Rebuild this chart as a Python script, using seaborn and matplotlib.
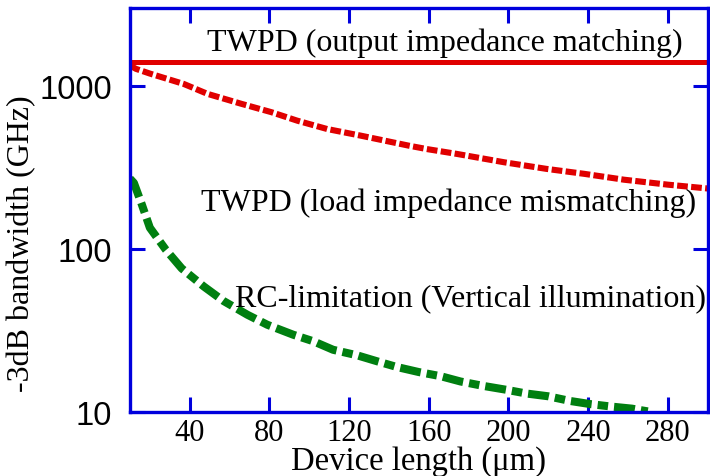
import matplotlib
matplotlib.use("Agg")
import matplotlib.pyplot as plt
import seaborn as sns
import numpy as np

# Device length (um) and -3dB bandwidth (GHz)
twpd_matched_bw = [1400]

twpd_mismatch_len = [10, 13, 20, 37, 49, 66, 81, 94, 109, 126, 150, 159, 174, 198, 219, 238, 258, 280, 300]
twpd_mismatch_bw = [1335, 1272, 1190, 1028, 893, 776, 690, 612, 544, 495, 430, 410, 383, 340, 310, 289, 266, 248, 235]

rc_len = [10, 12, 16, 20, 28, 36, 47, 57, 69, 79, 92, 102, 112, 124, 134, 144, 155, 166, 176,
          187, 199, 209, 220, 231, 241, 252, 262, 270]
rc_bw = [270, 254, 187, 135, 99, 76, 59, 48, 39.5, 34.3, 29.8, 27.2, 24.1, 22.3, 20.5, 18.9, 17.6,
         16.6, 15.4, 14.5, 13.7, 13.0, 12.5, 11.7, 11.2, 10.8, 10.5, 10.1]

x_ticks = [40, 80, 120, 160, 200, 240, 280]
y_ticks = [10, 100, 1000]

sns.set_theme(style="white")
plt.rcParams["font.family"] = ["Liberation Serif", "DejaVu Serif"]
plt.rcParams["text.color"] = "black"
plt.rcParams["axes.labelcolor"] = "black"

fig = plt.figure(figsize=(7.10, 4.77), dpi=100)
ax = fig.add_axes([0.183, 0.134, 0.8135, 0.847])

red = "#e00000"
green = "#007f10"
blue = "#0000dd"

ax.axhline(twpd_matched_bw[0], color=red, linewidth=3.6, solid_capstyle="butt")
sns.lineplot(x=twpd_mismatch_len, y=twpd_mismatch_bw, ax=ax, color=red, linewidth=4.4,
             linestyle=(0, (1.75, 0.55)), dash_capstyle="butt")
sns.lineplot(x=rc_len, y=rc_bw, ax=ax, color=green, linewidth=5.8,
             linestyle=(0, (2.6, 0.75, 1.3, 0.75)), dash_capstyle="butt")

ax.set_yscale("log")
ax.set_xlim(10, 300)
ax.set_ylim(10, 3000)
ax.set_xticks(x_ticks)
ax.set_xticklabels([str(v) for v in x_ticks], fontsize=22)
ax.set_yticks(y_ticks)
ax.set_yticklabels([str(v) for v in y_ticks], family=["Liberation Sans", "DejaVu Sans"], fontsize=23.5)
ax.yaxis.set_minor_locator(matplotlib.ticker.NullLocator())

ax.tick_params(axis="both", which="major", direction="in", length=11, width=2.2,
               color=blue, labelcolor="black", top=True, right=True, bottom=True, left=True)
ax.tick_params(axis="x", pad=4)
ax.tick_params(axis="y", pad=13)

for sp in ax.spines.values():
    sp.set_color(blue)
    sp.set_linewidth(2.4)
    sp.set_visible(True)

ax.set_xlabel("Device length (μm)", fontsize=23.5, labelpad=-1)
ax.set_ylabel("-3dB bandwidth (GHz)", fontsize=23)
ax.yaxis.set_label_coords(-0.163, 0.42)

txt_kw = dict(fontsize=23, ha="center", va="center", color="black")
ax.text(168, 1860, "TWPD (output impedance matching)", **txt_kw)
ax.text(170, 194, "TWPD (load impedance mismatching)", **txt_kw)
ax.text(181, 50, "RC-limitation (Vertical illumination)", clip_on=False, **txt_kw)

fig.savefig("out.png", dpi=100)
